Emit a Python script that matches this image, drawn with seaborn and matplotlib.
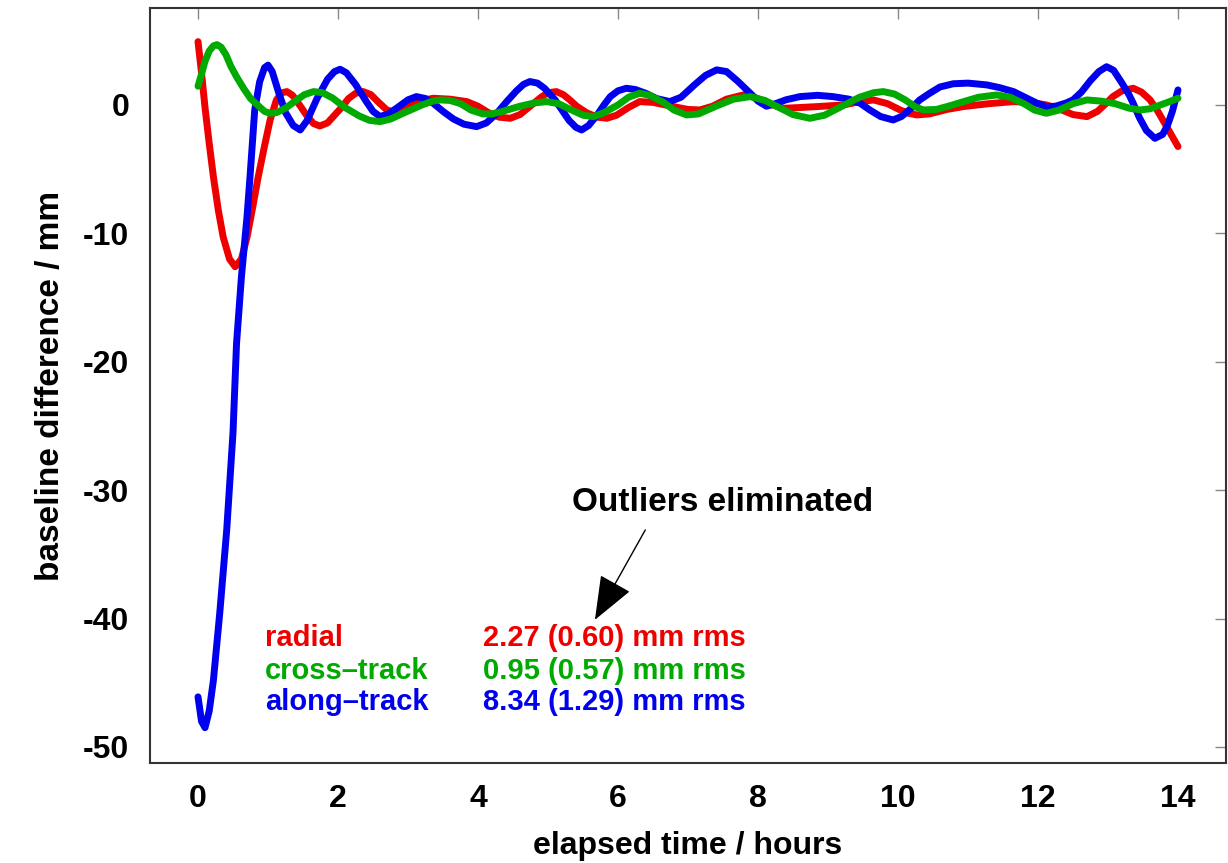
import matplotlib
matplotlib.use("Agg")
import matplotlib.pyplot as plt
import seaborn as sns
import pandas as pd

# ---- data ----
radial_t = [0, 0.05, 0.1, 0.16, 0.22, 0.29, 0.36, 0.45, 0.53, 0.62, 0.7, 0.78, 0.86, 0.95,
            1.03, 1.12, 1.2, 1.27, 1.35, 1.45, 1.55, 1.65, 1.74, 1.85, 1.95, 2.05, 2.15, 2.25,
            2.36, 2.47, 2.58, 2.7, 2.8, 2.95, 3.1, 3.25, 3.36, 3.6, 3.84, 4.0, 4.15, 4.3, 4.46,
            4.6, 4.7, 4.79, 4.9, 5.0, 5.12, 5.22, 5.32, 5.41, 5.55, 5.7, 5.84, 5.98, 6.15, 6.31,
            6.5, 6.79, 7.0, 7.17, 7.35, 7.55, 7.79, 7.95, 8.15, 8.36, 8.6, 8.84, 9.22, 9.45,
            9.65, 9.85, 10.03, 10.15, 10.27, 10.45, 10.7, 10.93, 11.3, 11.65, 11.9, 12.12,
            12.3, 12.5, 12.7, 12.85, 12.95, 13.07, 13.2, 13.36, 13.48, 13.6, 13.7, 13.85, 14.0]
radial_v = [4.93, 2.5, -0.2, -3.0, -5.6, -8.2, -10.3, -12.0, -12.6, -12.0, -10.3, -8.0, -5.6, -3.2,
            -1.17, 0.39, 0.95, 1.04, 0.75, 0.0, -0.8, -1.45, -1.64, -1.4, -0.8, -0.2, 0.5, 0.9,
            1.04, 0.8, 0.2, -0.4, -0.55, -0.3, 0.1, 0.4, 0.52, 0.45, 0.26, -0.1, -0.6, -0.95, -1.04,
            -0.75, -0.3, 0.1, 0.6, 0.95, 1.04, 0.8, 0.35, -0.1, -0.6, -0.95, -1.04, -0.8, -0.2, 0.26,
            0.2, -0.13, -0.35, -0.39, -0.1, 0.45, 0.78, 0.6, 0.1, -0.26, -0.2, -0.13, 0.0, 0.25,
            0.39, 0.1, -0.39, -0.65, -0.78, -0.7, -0.35, -0.13, 0.1, 0.26, 0.2, 0.0,
            -0.3, -0.75, -0.91, -0.5, 0.0, 0.65, 1.1, 1.3, 1.0, 0.4, -0.39, -1.8, -3.24]

cross_t = [0, 0.05, 0.1, 0.16, 0.22, 0.27, 0.33, 0.4, 0.47, 0.55, 0.65, 0.75, 0.85, 0.95, 1.03,
           1.12, 1.25, 1.4, 1.52, 1.65, 1.78, 1.92, 2.1, 2.3, 2.45, 2.6, 2.75, 2.95, 3.2, 3.35,
           3.46, 3.6, 3.75, 3.9, 4.07, 4.2, 4.35, 4.6, 4.8, 4.98, 5.15, 5.3, 5.5, 5.65, 5.8, 6.0,
           6.15, 6.31, 6.45, 6.65, 6.8, 6.98, 7.15, 7.4, 7.65, 7.89, 8.1, 8.3, 8.5, 8.74, 8.95,
           9.2, 9.45, 9.65, 9.79, 9.95, 10.1, 10.25, 10.36, 10.55, 10.75, 10.9, 11.15, 11.41,
           11.6, 11.8, 11.95, 12.12, 12.3, 12.5, 12.7, 12.9, 13.1, 13.3, 13.46, 13.6, 13.75,
           13.9, 14.0]
cross_v = [1.46, 2.4, 3.4, 4.2, 4.6, 4.7, 4.5, 3.9, 3.0, 2.2, 1.3, 0.5, 0.0, -0.5, -0.65,
           -0.6, -0.25, 0.35, 0.8, 1.04, 0.95, 0.55, -0.2, -0.85, -1.2, -1.3, -1.1, -0.6, 0.0, 0.3,
           0.39, 0.35, 0.1, -0.4, -0.7, -0.7, -0.5, -0.1, 0.15, 0.26, 0.1, -0.3, -0.8, -0.91, -0.6, 0.0,
           0.6, 0.91, 0.75, 0.2, -0.4, -0.78, -0.7, -0.1, 0.45, 0.65, 0.35, -0.2, -0.75, -1.04, -0.8,
           -0.1, 0.6, 0.95, 1.04, 0.85, 0.4, -0.15, -0.39, -0.35, -0.05, 0.2, 0.6, 0.78,
           0.6, 0.1, -0.4, -0.65, -0.4, 0.1, 0.39, 0.3, 0.1, -0.25, -0.39, -0.3, 0.0,
           0.3, 0.52]

along_t = [0, 0.05, 0.1, 0.16, 0.22, 0.31, 0.41, 0.5, 0.55, 0.62, 0.7, 0.74, 0.81, 0.88, 0.95,
           1.0, 1.06, 1.15, 1.25, 1.36, 1.46, 1.56, 1.7, 1.85, 1.95, 2.03, 2.12, 2.25, 2.4, 2.5,
           2.6, 2.72, 2.85, 3.0, 3.12, 3.25, 3.36, 3.5, 3.65, 3.8, 3.98, 4.12, 4.27, 4.4, 4.55,
           4.65, 4.74, 4.85, 4.95, 5.1, 5.2, 5.3, 5.4, 5.48, 5.58, 5.7, 5.8, 5.89, 6.0, 6.12,
           6.25, 6.4, 6.55, 6.74, 6.9, 7.1, 7.25, 7.41, 7.55, 7.7, 7.89, 8.0, 8.12, 8.25, 8.4,
           8.6, 8.85, 9.07, 9.3, 9.46, 9.6, 9.75, 9.93, 10.05, 10.18, 10.31, 10.45, 10.6, 10.79,
           11.0, 11.27, 11.45, 11.65, 11.85, 12.0, 12.12, 12.25, 12.4, 12.5, 12.62, 12.75, 12.87,
           12.98, 13.08, 13.2, 13.3, 13.36, 13.45, 13.55, 13.67, 13.78, 13.85, 13.92, 14.0]
along_v = [-46.1, -48.0, -48.5, -47.2, -44.8, -39.6, -33.1, -25.5, -18.6, -13.4, -8.7, -5.8, -0.4, 1.8, 2.9,
           3.1, 2.6, 1.0, -0.6, -1.6, -1.95, -1.2, 0.5, 2.0, 2.6, 2.78, 2.5, 1.6, 0.3, -0.5,
           -0.9, -0.7, -0.2, 0.4, 0.65, 0.5, 0.13, -0.5, -1.1, -1.5, -1.69, -1.4, -0.65, 0.2, 1.1,
           1.6, 1.82, 1.7, 1.3, 0.4, -0.4, -1.2, -1.75, -1.95, -1.6, -0.8, 0.0, 0.65, 1.1, 1.3,
           1.2, 0.9, 0.5, 0.26, 0.6, 1.6, 2.3, 2.73, 2.6, 1.9, 0.91, 0.3, -0.1, 0.1, 0.4,
           0.65, 0.75, 0.65, 0.45, 0.13, -0.4, -0.9, -1.17, -0.9, -0.3, 0.39, 0.9, 1.4, 1.65,
           1.7, 1.56, 1.35, 1.04, 0.5, 0.1, -0.13, -0.1, 0.15, 0.39, 1.0, 1.9, 2.6,
           2.98, 2.7, 1.7, 0.8, 0.13, -1.0, -2.0, -2.6, -2.3, -1.6, -0.5, 1.17]

labels = ["radial", "cross\u2013track", "along\u2013track"]
rms_text = ["2.27 (0.60) mm rms", "0.95 (0.57) mm rms", "8.34 (1.29) mm rms"]
colors = ["#ee0000", "#00aa00", "#0000ee"]
xticks = [0, 2, 4, 6, 8, 10, 12, 14]
yticks = [0, -10, -20, -30, -40, -50]

df = pd.concat([
    pd.DataFrame({"t": radial_t, "v": radial_v, "comp": labels[0]}),
    pd.DataFrame({"t": cross_t, "v": cross_v, "comp": labels[1]}),
    pd.DataFrame({"t": along_t, "v": along_v, "comp": labels[2]}),
])

sns.set_theme(style="white")
plt.rcParams["font.family"] = ["Liberation Sans", "DejaVu Sans"]
plt.rcParams["axes.unicode_minus"] = False
plt.rcParams["text.color"] = "black"
plt.rcParams["axes.labelcolor"] = "black"

fig = plt.figure(figsize=(12.28, 8.63), dpi=100)
ax = fig.add_axes([150 / 1228, 1 - 763 / 863, (1226 - 150) / 1228, (763 - 8) / 863])

palette = dict(zip(labels, colors))
sns.lineplot(data=df, x="t", y="v", hue="comp",
             hue_order=[labels[0], labels[2], labels[1]],
             palette=palette, linewidth=5.0, legend=False, ax=ax, sort=False)

ax.set_xlim(-0.686, 14.686)
ax.set_ylim(-51.25, 7.55)
ax.set_xticks(xticks)
ax.set_yticks(yticks)
ax.set_xticklabels([str(x) for x in xticks], fontsize=23, fontweight="bold")
ax.set_yticklabels([str(y) for y in yticks], fontsize=23, fontweight="bold")
ax.tick_params(axis="x", direction="in", length=8, width=1, color="#888888",
               labelcolor="black", top=True, pad=15)
ax.tick_params(axis="y", direction="in", length=8, width=1, color="#888888",
               labelcolor="black", right=True, pad=15)
for s in ax.spines.values():
    s.set_color("#333333")
    s.set_linewidth(1.5)

ax.set_xlabel("elapsed time / hours", fontsize=23, fontweight="bold", labelpad=12)
ax.set_ylabel("baseline difference / mm", fontsize=24, fontweight="bold", labelpad=12)

ys = [-41.5, -44.1, -46.5]
for lab, rt, c, y in zip(labels, rms_text, colors, ys):
    ax.text(0.96, y, lab, color=c, fontsize=21, fontweight="bold", va="center", ha="left")
    ax.text(4.07, y, rt, color=c, fontsize=21, fontweight="bold", va="center", ha="left")

ax.text(7.49, -31.0, "Outliers eliminated", fontsize=24, fontweight="bold",
        ha="center", va="center", color="black")
ax.annotate("", xy=(5.67, -40.1), xytext=(6.39, -33.1),
            arrowprops=dict(arrowstyle="-|>,head_length=1.4,head_width=0.55",
                            color="black", lw=1, mutation_scale=20, shrinkA=0, shrinkB=0))

fig.savefig("out.png", dpi=100)
